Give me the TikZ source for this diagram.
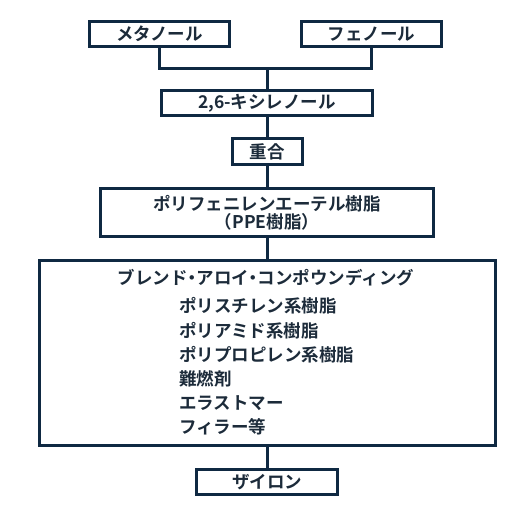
\documentclass[tikz,border=0pt]{standalone}
\usepackage{fontspec}
\setmainfont{Noto Sans CJK JP}[BoldFont={* Bold}]
\usetikzlibrary{positioning}
\definecolor{navy}{HTML}{0F2942}
\definecolor{ink}{HTML}{1C2B3A}
\newcommand\dotsep{{\addfontfeature{RawFeature=+palt}・}}

\begin{document}
\begin{tikzpicture}[x=1pt, y=-1pt]
\tikzset{
  stepbox/.style={draw=navy, line width=3pt, inner sep=0pt, text=ink,
    font=\fontsize{17.5}{18.5}\selectfont\bfseries, align=center},
  flow/.style={draw=navy, line width=3pt},
  item/.style={inner sep=0pt, text=ink, font=\fontsize{17.5}{18.5}\selectfont\bfseries},
}
\useasboundingbox (0,0) rectangle (520,516);
\node[stepbox, minimum width=140pt, minimum height=24.5pt] (meta) at (159.5, 34) {メタノール};
\node[stepbox, minimum width=140pt, minimum height=24.5pt] (feno) at (371.5, 34) {フェノール};
\node[stepbox, minimum width=211pt, minimum height=25pt] (xyle) at (267, 103) {2,6-キシレノール};
\node[stepbox, minimum width=70pt, minimum height=25.5pt] (poly) at (267, 151.5) {重合};
\node[stepbox, minimum width=333pt, minimum height=48pt] (ppe) at (267, 213) {ポリフェニレンエーテル樹脂\\（PPE樹脂）};
\node[stepbox, minimum width=456pt, minimum height=185pt] (blend) at (267, 353) {};
\node[stepbox, minimum width=141pt, minimum height=25pt] (zylon) at (267, 481.7) {ザイロン};
\coordinate (join) at (267, 68.7);
% contents of the blend box
\node[item] (title) at (266, 278) {ブレンド\dotsep アロイ\dotsep コンポウンディング};
\node[item, anchor=west] (ps) at (179, 306) {ポリスチレン系樹脂};
\node[item, anchor=west] (pa) at (179, 331) {ポリアミド系樹脂};
\node[item, anchor=west] (pp) at (179, 355) {ポリプロピレン系樹脂};
\node[item, anchor=west] (fr) at (179, 379) {難燃剤};
\node[item, anchor=west] (el) at (179, 403) {エラストマー};
\node[item, anchor=west] (fi) at (179, 427) {フィラー等};
\draw[flow] (meta.south) |- (join) -| (feno.south);
\draw[flow] (join) -- (xyle.north);
\draw[flow] (xyle) -- (poly);
\draw[flow] (poly) -- (ppe);
\draw[flow] (ppe) -- (blend);
\draw[flow] (blend) -- (zylon);
\end{tikzpicture}
\end{document}
